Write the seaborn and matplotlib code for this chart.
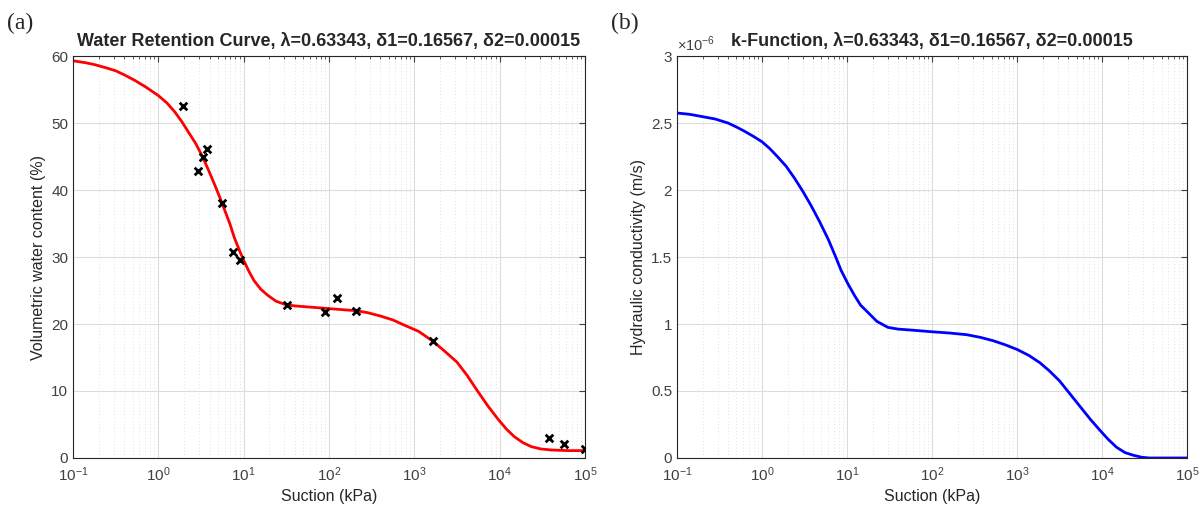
import numpy as np
import pandas as pd
import matplotlib
matplotlib.use("Agg")
import matplotlib.pyplot as plt
import matplotlib.ticker as mticker
import seaborn as sns

# ---- data ----
meas_suction = [1.92, 2.93, 3.31, 3.76, 5.52, 7.5, 9.05, 32, 90, 125, 208, 1663, 38100, 57000, 100000]
meas_theta = [52.6, 42.9, 44.9, 46.2, 38.1, 30.8, 29.5, 22.8, 21.8, 23.9, 21.9, 17.5, 3.0, 2.1, 1.3]

wrc_log_suction = [-1.0, -0.85, -0.74, -0.6, -0.5, -0.4, -0.28, -0.15, 0.0, 0.1, 0.19, 0.27, 0.35,
                   0.44, 0.52, 0.59, 0.66, 0.72, 0.78, 0.84, 0.89, 0.95, 1.0, 1.06, 1.12, 1.2, 1.28,
                   1.38, 1.49, 1.6, 1.8, 2.0, 2.2, 2.31, 2.45, 2.6, 2.75, 2.87, 3.05, 3.21, 3.35,
                   3.5, 3.62, 3.74, 3.86, 3.98, 4.08, 4.17, 4.27, 4.37, 4.48, 4.6, 4.8, 5.0]
wrc_theta = [59.3, 59.0, 58.7, 58.2, 57.8, 57.2, 56.4, 55.4, 54.1, 53.0, 51.7, 50.3, 48.7,
             46.9, 44.9, 42.9, 40.8, 38.9, 36.9, 34.9, 32.9, 31.0, 29.5, 27.9, 26.5, 25.2, 24.3,
             23.4, 22.9, 22.7, 22.5, 22.3, 22.1, 22.0, 21.7, 21.2, 20.6, 19.9, 18.9, 17.5, 16.0,
             14.3, 12.3, 10.0, 7.8, 5.8, 4.3, 3.2, 2.3, 1.7, 1.35, 1.2, 1.1, 1.1]

k_log_suction = [-1.0, -0.85, -0.72, -0.55, -0.4, -0.3, -0.21, -0.1, 0.0, 0.09, 0.18, 0.28, 0.38,
                 0.48, 0.58, 0.68, 0.78, 0.86, 0.93, 1.01, 1.09, 1.16, 1.24, 1.35, 1.48, 1.6, 1.75,
                 2.0, 2.2, 2.41, 2.57, 2.72, 2.86, 3.0, 3.14, 3.27, 3.38, 3.5, 3.62, 3.74, 3.86,
                 3.97, 4.07, 4.17, 4.27, 4.37, 4.47, 4.56, 5.0]
k_value_e6 = [2.575, 2.565, 2.55, 2.53, 2.50, 2.47, 2.44, 2.40, 2.36, 2.31, 2.25, 2.18, 2.09,
              1.99, 1.88, 1.76, 1.63, 1.51, 1.40, 1.30, 1.21, 1.14, 1.09, 1.02, 0.975, 0.962, 0.955,
              0.942, 0.933, 0.92, 0.90, 0.875, 0.845, 0.81, 0.765, 0.71, 0.65, 0.575, 0.48, 0.385, 0.29,
              0.21, 0.14, 0.08, 0.04, 0.02, 0.005, 0.0, 0.0]

x_ticks = [1e-1, 1e0, 1e1, 1e2, 1e3, 1e4, 1e5]

title_a = "Water Retention Curve, \u03bb=0.63343, \u03b41=0.16567, \u03b42=0.00015"
title_b = "k-Function, \u03bb=0.63343, \u03b41=0.16567, \u03b42=0.00015"

wrc_df = pd.DataFrame({"s": 10.0 ** np.array(wrc_log_suction), "t": wrc_theta})
meas_df = pd.DataFrame({"s": meas_suction, "t": meas_theta})
k_df = pd.DataFrame({"s": 10.0 ** np.array(k_log_suction), "k": np.array(k_value_e6) * 1e-6})

sns.set_style("white")
plt.rcParams["font.family"] = ["Liberation Sans", "DejaVu Sans"]
plt.rcParams["mathtext.fontset"] = "custom"
plt.rcParams["mathtext.rm"] = "Liberation Sans"

fig = plt.figure(figsize=(12.03, 5.12), dpi=100)
ax1 = fig.add_axes([0.0607, 0.1055, 0.4256, 0.785])
ax2 = fig.add_axes([0.5628, 0.1055, 0.424, 0.785])

tick_col = "#404040"

def style(ax):
    ax.set_xscale("log")
    ax.set_xlim(1e-1, 1e5)
    ax.xaxis.set_major_locator(mticker.FixedLocator(x_ticks))
    ax.xaxis.set_major_formatter(mticker.LogFormatterSciNotation())
    minors = [m * d for d in x_ticks[:-1] for m in range(2, 10)]
    ax.xaxis.set_minor_locator(mticker.FixedLocator(minors))
    ax.xaxis.set_minor_formatter(mticker.NullFormatter())
    ax.grid(True, which="major", color="#dcdcdc", linewidth=0.8, linestyle="-")
    ax.grid(True, which="minor", color="#d8d8d8", linewidth=0.6, linestyle=(0, (1, 3)))
    ax.set_axisbelow(True)
    ax.tick_params(which="both", direction="in", top=True, right=True, colors=tick_col,
                   labelsize=11, labelcolor=tick_col)
    ax.tick_params(axis="x", which="major", pad=5)
    ax.tick_params(which="major", length=4)
    ax.tick_params(which="minor", length=2)
    for sp in ax.spines.values():
        sp.set_color("#262626")
        sp.set_linewidth(0.8)
    ax.set_xlabel("Suction (kPa)", fontsize=11.5, color="#262626", labelpad=4)

sns.lineplot(data=wrc_df, x="s", y="t", ax=ax1, color="#ff0000", linewidth=2, sort=True)
sns.scatterplot(data=meas_df, x="s", y="t", ax=ax1, marker="x", color="black", s=30,
                linewidth=2, zorder=5)
style(ax1)
ax1.set_ylim(0, 60)
ax1.set_yticks([0, 10, 20, 30, 40, 50, 60])
ax1.set_ylabel("Volumetric water content (%)", fontsize=11.5, color="#262626")
ax1.set_title(title_a, fontsize=13, fontweight="bold", pad=7)

sns.lineplot(data=k_df, x="s", y="k", ax=ax2, color="#0000ff", linewidth=2, sort=True)
style(ax2)
ax2.set_ylim(0, 3e-6)
ax2.set_yticks(np.arange(0, 3.01e-6, 0.5e-6))
ax2.yaxis.set_major_formatter(mticker.FuncFormatter(lambda v, p: f"{v*1e6:g}"))
ax2.set_ylabel("Hydraulic conductivity (m/s)", fontsize=11.5, color="#262626")
ax2.set_title(title_b, fontsize=13, fontweight="bold", pad=7)
ax2.text(0.0, 1.005, r"$\times10^{-6}$", transform=ax2.transAxes, fontsize=10.5,
         color=tick_col, ha="left", va="bottom")

fig.text(0.006, 0.955, "(a)", fontsize=17, family="Liberation Serif", va="center")
fig.text(0.508, 0.955, "(b)", fontsize=17, family="Liberation Serif", va="center")

fig.savefig("out.png", dpi=100)
